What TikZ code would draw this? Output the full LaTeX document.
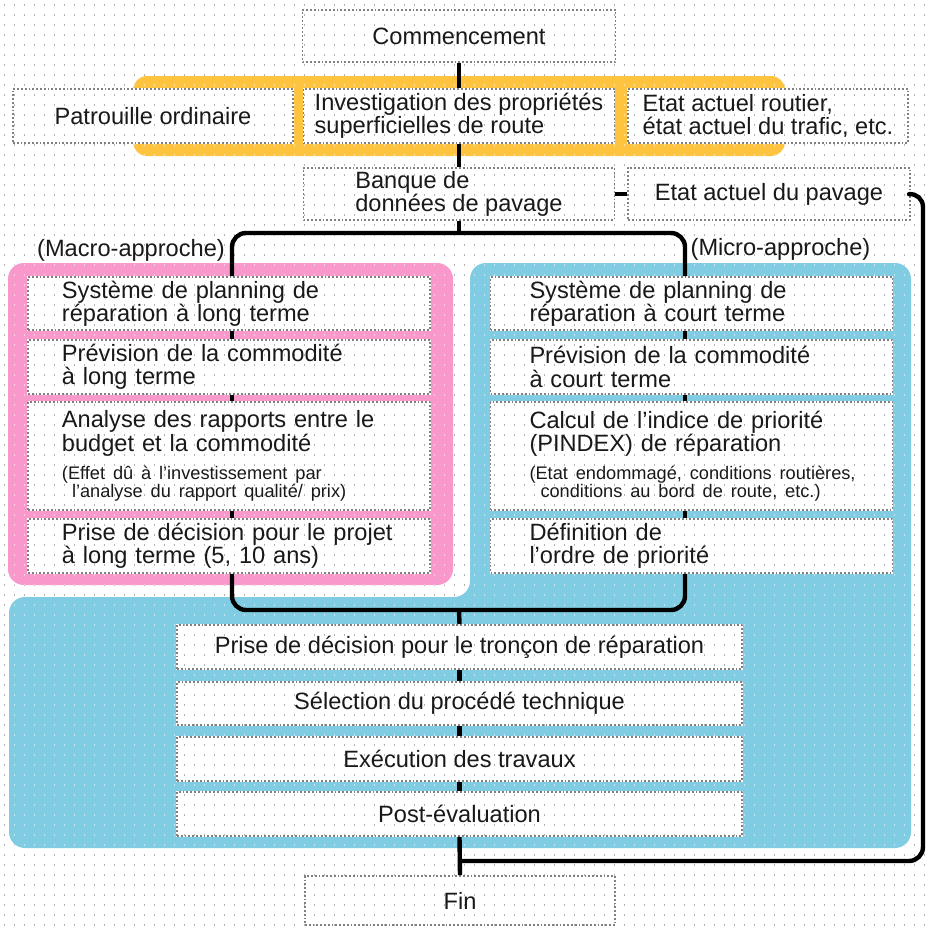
\documentclass[tikz,border=0pt]{standalone}
\usepackage{fontspec}
\setmainfont{Liberation Sans}
\definecolor{bandyellow}{HTML}{FFC43F}
\definecolor{macropink}{HTML}{F898CB}
\definecolor{microblue}{HTML}{80CDE3}
\pgfdeclarelayer{bg}
\pgfsetlayers{bg,main}
\newcommand{\boxfont}{\fontsize{11.8}{11.6}\selectfont\lineskiplimit=-20pt}
\newcommand{\notefont}{\fontsize{9.1}{8.9}\selectfont\lineskiplimit=-20pt}
\newcommand{\dotgrid}[1]{%
  \foreach \yy in {5,15,...,925}
    \draw[#1,line width=0.7pt,dash pattern=on 0.7pt off 4.3pt] (4,\yy) -- (927,\yy);}
\begin{document}
\begin{tikzpicture}[x=0.5pt,y=-0.5pt,line cap=butt,line join=round,
  box/.style={draw=black!50,line width=0.9pt,densely dotted,inner sep=0pt,text=black!90,font=\boxfont},
  colbox/.style={box,align=left,text width=193pt,inner xsep=4pt,minimum width=201pt},
  lcol/.style={colbox,execute at begin node={\leftskip=13pt}},
  rcol/.style={colbox,execute at begin node={\leftskip=15.5pt}},
  stepbox/.style={box,minimum width=282.5pt,minimum height=22pt},
  grouplabel/.style={inner sep=0pt,text=black!90,font=\boxfont},
  link/.style={line width=2.2pt,black}]
  \useasboundingbox (0,0) rectangle (927,927);
  \node[box,minimum width=156.5pt,minimum height=26pt] (start) at (459,36) {Commencement};
  \node[box,minimum width=140pt,minimum height=27pt] (patrol) at (153,116) {Patrouille ordinaire};
  \node[box,align=left,minimum width=155.5pt,minimum height=27pt] (invest) at (459,116) {Investigation des propriétés\\superficielles de route};
  \node[box,align=left,minimum width=140pt,minimum height=27pt] (state) at (768,116) {Etat actuel routier,\\état actuel du trafic, etc.};
  \node[box,align=left,minimum width=155.5pt,minimum height=26pt] (bank) at (459,194) {Banque de\\données de pavage};
  \node[box,minimum width=141pt,minimum height=26pt] (pave) at (769,194) {Etat actuel du pavage};
  \node[grouplabel] (macro) at (131,250) {(Macro-approche)};
  \node[grouplabel] (micro) at (780.5,249) {(Micro-approche)};
  \node[lcol,minimum height=26.5pt] (lA) at (229,303.5) {Système de planning de\\réparation à long terme};
  \node[lcol,minimum height=27pt] (lB) at (229,367) {Prévision de la commodité\\à long terme};
  \node[lcol,minimum height=54pt] (lC) at (229,456) {Analyse des rapports entre le\\budget et la commodité\par\vspace{5.4pt}\notefont(Effet dû à l'investissement par\\\hspace*{5pt}l'analyse du rapport qualité/ prix)\par};
  \node[lcol,minimum height=27pt] (lD) at (229,546) {Prise de décision pour le projet\\à long terme (5, 10 ans)};
  \node[rcol,minimum height=26.5pt] (rA) at (691.5,303.5) {Système de planning de\\réparation à court terme};
  \node[rcol,minimum height=27pt] (rB) at (691.5,367) {Prévision de la commodité\\à court terme};
  \node[rcol,minimum height=54pt] (rC) at (691.5,456) {Calcul de l'indice de priorité\\(PINDEX) de réparation\par\vspace{5.4pt}\notefont(Etat endommagé, conditions routières,\\\hspace*{5.5pt}conditions au bord de route, etc.)\par};
  \node[rcol,minimum height=27pt] (rD) at (691.5,546) {Définition de\\l'ordre de priorité};
  \node[stepbox] (t1) at (459.5,647) {Prise de décision pour le tronçon de réparation};
  \node[stepbox,minimum height=21.5pt] (t2) at (459.5,703.5) {Sélection du procédé technique};
  \node[stepbox] (t3) at (459.5,759) {Exécution des travaux};
  \node[stepbox] (t4) at (459.5,814) {Post-évaluation};
  \node[box,minimum width=155pt,minimum height=24.5pt] (fin) at (460,900.5) {Fin};
  \coordinate (lx) at (232,0);
  \coordinate (rx) at (685,0);
  \coordinate (top) at (459,233);
  \coordinate (bot) at (459,610);
  \coordinate (lp) at (459,861);
  \coordinate (rt) at (923,193);
  \begin{pgfonlayer}{bg}
    \dotgrid{black!30}
    \fill[bandyellow,rounded corners=7pt] (133,76) rectangle (785,156);
    \fill[macropink,rounded corners=8pt] (8,263) rectangle (453,585);
    \fill[microblue,rounded corners=8pt] (470,263) -- (911,263) -- (911,848) -- (9,848) -- (9,597) -- (470,597) -- cycle;
    \begin{scope}
      \clip (133,76) rectangle (785,156) (8,263) rectangle (453,585)
        (470,263) -- (911,263) -- (911,848) -- (9,848) -- (9,597) -- (470,597) -- cycle;
      \dotgrid{white,opacity=0.5}
    \end{scope}
    \foreach \n in {start,patrol,invest,state,bank,pave,lA,lB,lC,lD,rA,rB,rC,rD,t1,t2,t3,t4,fin}
      \fill[white] (\n.north west) rectangle (\n.south east);
    \begin{scope}
      \clip \foreach \n in {start,patrol,invest,state,bank,pave,lA,lB,lC,lD,rA,rB,rC,rD,t1,t2,t3,t4,fin}
        {(\n.north west) rectangle (\n.south east)};
      \dotgrid{black!30}
    \end{scope}
  \end{pgfonlayer}
  \draw[link] (start.south) -- (invest.north);
  \draw[link] (invest.south) -- (bank.north);
  \draw[link] (bank.south) -- (top);
  \draw[link] (bank.east) -- (pave.west);
  \draw[link,rounded corners=7pt] (lA.north -| lx) |- (top) -| (rA.north -| rx);
  \foreach \a/\b in {lA/lB,lB/lC,lC/lD}
    \draw[link] (\a.south -| lx) -- (\b.north -| lx);
  \foreach \a/\b in {rA/rB,rB/rC,rC/rD}
    \draw[link] (\a.south -| rx) -- (\b.north -| rx);
  \draw[link,rounded corners=7pt] (lD.south -| lx) |- (bot) -| (rD.south -| rx);
  \draw[link] (bot) -- (t1.north);
  \foreach \a/\b in {t1/t2,t2/t3,t3/t4,t4/fin}
    \draw[link] (\a.south) -- (\b.north);
  \draw[link,rounded corners=7pt] (lp) -| (rt) -- (pave.east);
\end{tikzpicture}
\end{document}
